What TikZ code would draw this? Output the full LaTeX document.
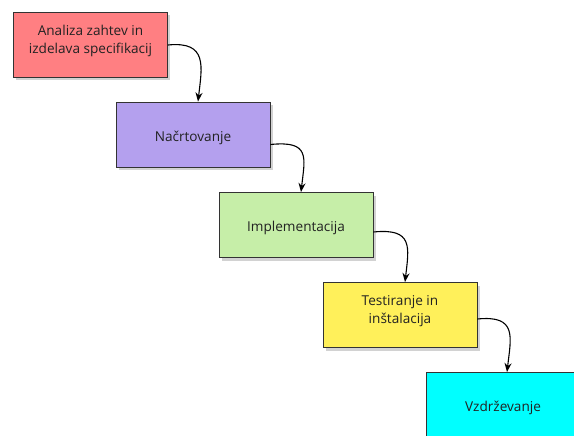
\documentclass[tikz,border=0pt]{standalone}
\usepackage{fontspec}
\setmainfont{Open Sans}
\usetikzlibrary{shadows,arrows.meta,calc}
\definecolor{cred}{HTML}{FF7F82}
\definecolor{cpurple}{HTML}{B4A0EE}
\definecolor{cgreen}{HTML}{C6EEA8}
\definecolor{cyellow}{HTML}{FFF05A}
\definecolor{ccyan}{HTML}{00FFFF}
\definecolor{ctext}{HTML}{222222}
\newcommand\liftone[1]{\raisebox{-3pt}[\height][\depth]{#1}}
\newcommand\lifttwo[2]{\raisebox{4pt}[\height][\depth]{\begin{tabular}{@{}c@{}}#1\\#2\end{tabular}}}
\begin{document}
\begin{tikzpicture}[x=1pt,y=-1pt,
  phase/.style={draw=black!80, line width=0.9pt, minimum width=154pt, minimum height=65pt,
    inner sep=0pt, align=center, font=\fontsize{13.6}{18}\selectfont, text=ctext,
    drop shadow={shadow xshift=2.5pt, shadow yshift=-3.5pt, opacity=0.35}},
  flow/.style={line width=1.1pt, -{Stealth[length=9pt,width=7pt]}}]
\useasboundingbox (0,0) rectangle (574,436);
\clip (0,0) rectangle (574,436);
\fill[white] (0,0) rectangle (574,436);
\node[phase, fill=cred] (a) at (90.5,44.5) {\lifttwo{Analiza zahtev in}{izdelava specifikacij}};
\node[phase, fill=cpurple] (b) at (193,134.5) {\liftone{Načrtovanje}};
\node[phase, fill=cgreen] (c) at (296,225) {\liftone{Implementacija}};
\node[phase, fill=cyellow] (d) at (400,315) {\lifttwo{Testiranje in}{inštalacija}};
\node[phase, fill=ccyan] (e) at (503,405) {\liftone{Vzdrževanje}};
\coordinate (a1) at ($(a.east)+(0,0.5)$);
\coordinate (b0) at ($(b.north)+(5,0)$);
\coordinate (b1) at ($(b.east)+(0,10)$);
\coordinate (c0) at ($(c.north)+(5,0)$);
\coordinate (c1) at ($(c.east)+(0,7)$);
\coordinate (d0) at ($(d.north)+(5,0)$);
\coordinate (d1) at ($(d.east)+(0,4)$);
\coordinate (e0) at ($(e.north)+(4,0)$);
\draw[flow] (a1) .. controls +(40,-4) and +(4,-35) .. (b0);
\draw[flow] (b1) .. controls +(40,-4) and +(4,-35) .. (c0);
\draw[flow] (c1) .. controls +(40,-4) and +(4,-35) .. (d0);
\draw[flow] (d1) .. controls +(40,-4) and +(4,-35) .. (e0);
\end{tikzpicture}
\end{document}
